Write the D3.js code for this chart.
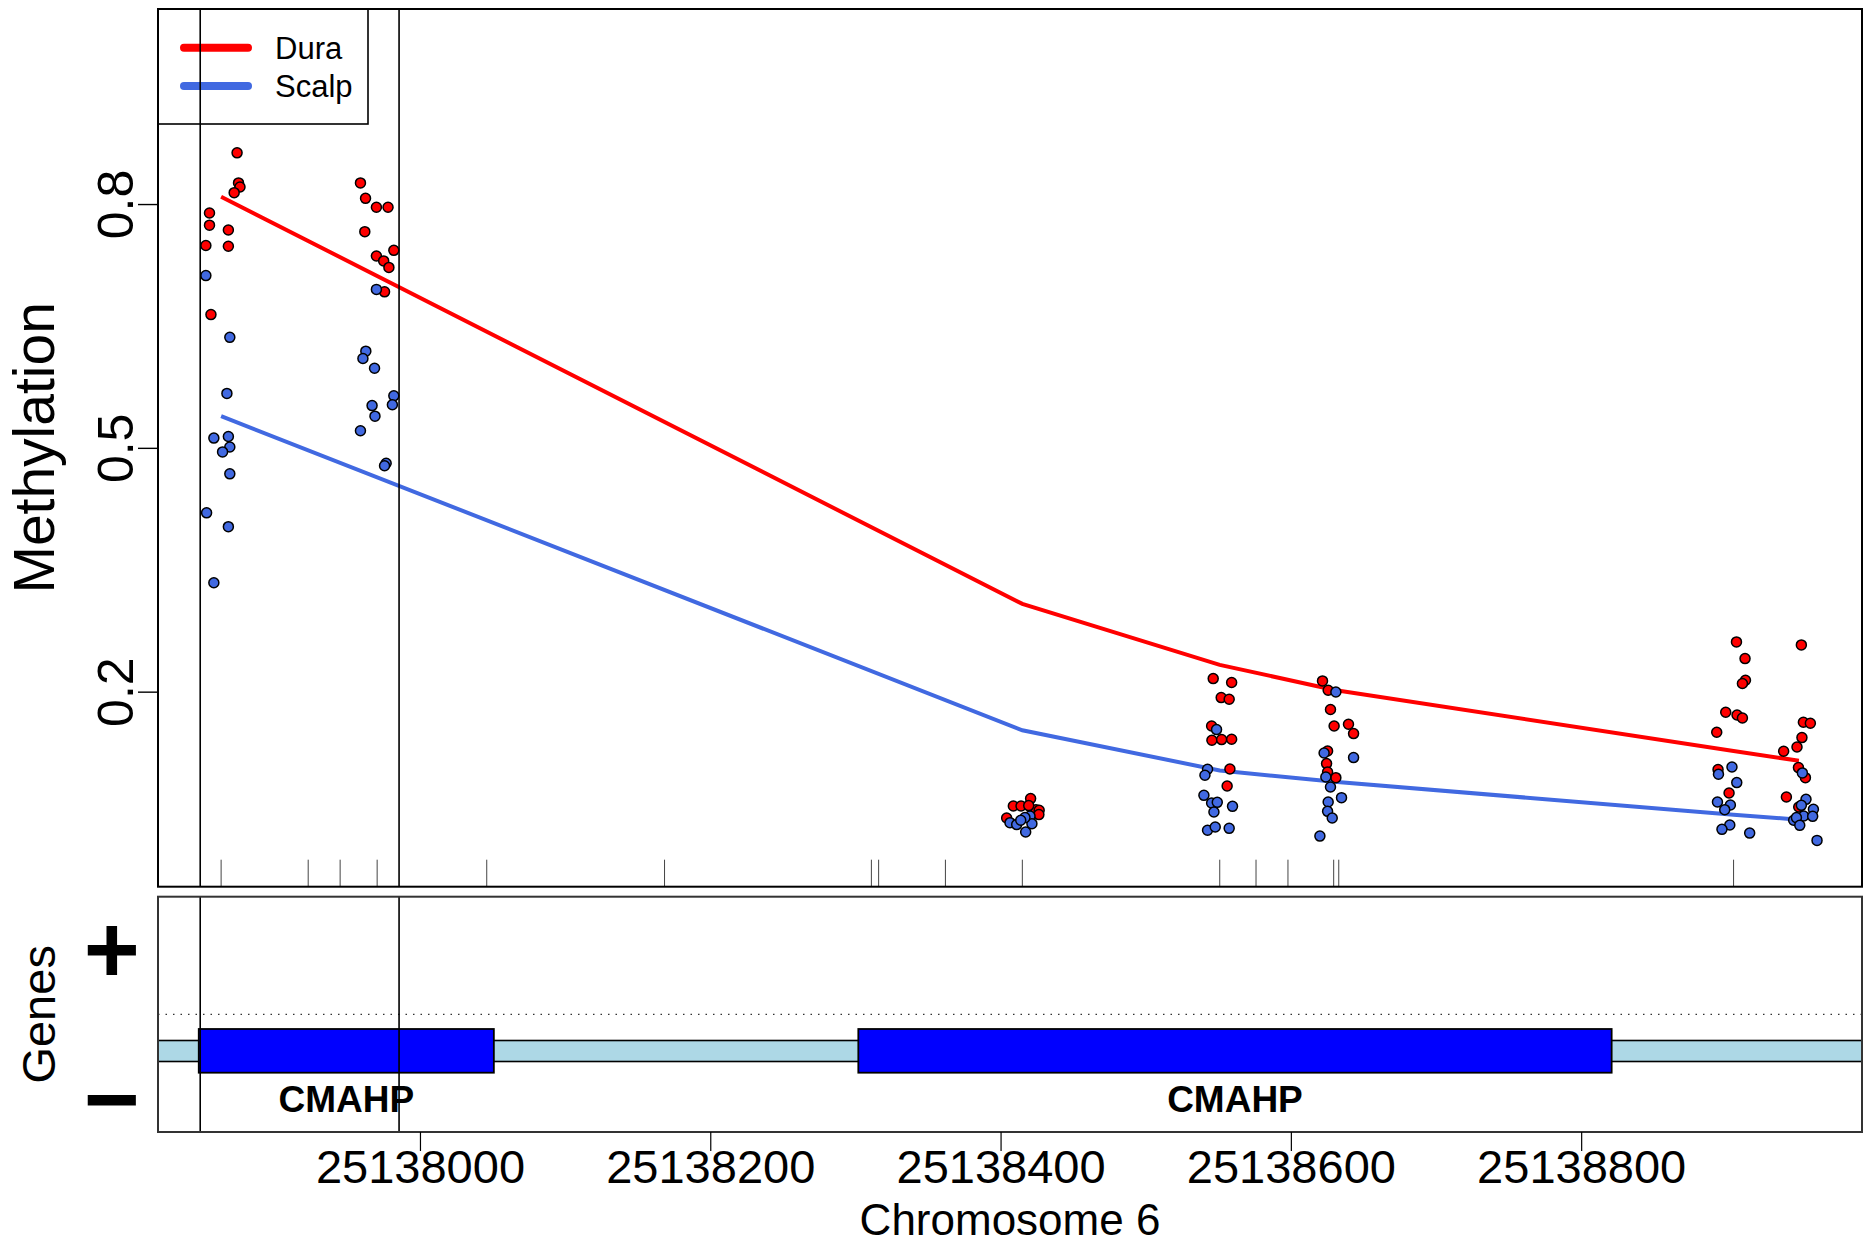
<!DOCTYPE html>
<html><head><meta charset="utf-8">
<script src="https://cdn.jsdelivr.net/npm/d3@7"></script>
<style>
body{margin:0;background:#fff}
svg{display:block}
text{font-family:"Liberation Sans",Arial,Helvetica,sans-serif;fill:#000}
</style>
</head><body>
<svg id="c" width="1864" height="1245"></svg>
<script>
// ---------------- data ----------------
const cpgPositions = [25137863, 25137923, 25137945, 25137970.5, 25138046, 25138168.5, 25138311, 25138316,
  25138362, 25138415, 25138551, 25138576, 25138598, 25138629.5, 25138633, 25138905];
const sitePositions = [25137863, 25138415, 25138551, 25138630, 25138905, 25138950];
const duraSmooth  = [0.809, 0.308, 0.233, 0.202, 0.127, 0.115];
const scalpSmooth = [0.539, 0.1525, 0.103, 0.089, 0.0486, 0.0425];

const duraPos = [
  25137874, 25137875, 25137876, 25137872, 25137855, 25137855, 25137868, 25137852.5, 25137868, 25137856,
  25137959, 25137962.5, 25137970, 25137978, 25137962, 25137982, 25137970, 25137975, 25137978.6, 25137975.6,
  25138420.7, 25138408.8, 25138414.1, 25138424.4, 25138426.6, 25138404.2, 25138426.4, 25138419.4,
  25138546.5, 25138559.2, 25138552, 25138557.5, 25138545.4, 25138545.6, 25138552.3, 25138559.2, 25138558, 25138556.1,
  25138621.8, 25138625.7, 25138627.3, 25138629.8, 25138639.7, 25138643.2, 25138625.3, 25138624.6, 25138625.3, 25138631,
  25138907, 25138912.9, 25138913.2, 25138911.1, 25138899.6, 25138907.4, 25138911.1, 25138893.4, 25138894.3, 25138901.9,
  25138951.7, 25138953.1, 25138957.9, 25138952.1, 25138948.7, 25138939.5, 25138949.7, 25138954.5, 25138941.4, 25138949.9];
const duraVal = [
  0.863, 0.826, 0.821, 0.814, 0.789, 0.774, 0.768, 0.749, 0.748, 0.664,
  0.826, 0.807, 0.796, 0.796, 0.766, 0.743, 0.736, 0.730, 0.722, 0.692,
  0.0684, 0.0593, 0.0593, 0.0548, 0.054, 0.0445, 0.0487, 0.0598,
  0.2161, 0.2112, 0.1927, 0.1906, 0.1578, 0.1402, 0.141, 0.1414, 0.1048, 0.0839,
  0.2132, 0.2017, 0.178, 0.1578, 0.1599, 0.1484, 0.127, 0.1115, 0.1011, 0.0942,
  0.2612, 0.2407, 0.214, 0.21, 0.1746, 0.1713, 0.1676, 0.15, 0.1041, 0.0753,
  0.2575, 0.1623, 0.1611, 0.1435, 0.1319, 0.1266, 0.1066, 0.0942, 0.0704, 0.058];

const scalpPos = [
  25137852.5, 25137869, 25137867, 25137858, 25137868, 25137869, 25137864, 25137869, 25137853, 25137868, 25137858,
  25137970, 25137962.7, 25137960.7, 25137968.7, 25137982, 25137981, 25137967, 25137969, 25137959, 25137976.7, 25137975.6,
  25138406.5, 25138411.1, 25138417.3, 25138420.3, 25138421.6, 25138416.8, 25138413.9,
  25138548.8, 25138542.6, 25138540.8, 25138540.1, 25138545.4, 25138549.3, 25138547, 25138559.8, 25138542.6, 25138547.9, 25138557.5,
  25138631, 25138622.9, 25138643.2, 25138624.1, 25138627.3, 25138634.9, 25138625.7, 25138625.3, 25138628.5, 25138620,
  25138903.9, 25138894.6, 25138907.2, 25138893.9, 25138902.8, 25138898.9, 25138902.4, 25138897, 25138916.1,
  25138952.4, 25138954.9, 25138951.7, 25138960, 25138953.3, 25138959.5, 25138946.4, 25138948.3, 25138950.6, 25138962.5];
const scalpVal = [
  0.712, 0.636, 0.567, 0.512, 0.514, 0.501, 0.495, 0.468, 0.420, 0.403, 0.334,
  0.695, 0.619, 0.610, 0.598, 0.564, 0.553, 0.552, 0.539, 0.521, 0.481, 0.478,
  0.0388, 0.0364, 0.0273, 0.047, 0.0376, 0.045, 0.0417,
  0.1533, 0.1045, 0.0971, 0.0724, 0.063, 0.0638, 0.0519, 0.0589, 0.0294, 0.0334, 0.0318,
  0.1996, 0.1245, 0.1189, 0.095, 0.0827, 0.0696, 0.0642, 0.0527, 0.0445, 0.0223,
  0.1073, 0.0983, 0.0881, 0.0642, 0.0605, 0.0548, 0.0359, 0.0306, 0.026,
  0.1, 0.0675, 0.0601, 0.0552, 0.047, 0.0466, 0.0417, 0.045, 0.0355, 0.017];

const groups = ["Dura", "Scalp"];
const yTicks = [0.2, 0.5, 0.8];
const xTicks = [25138000, 25138200, 25138400, 25138600, 25138800];
const regionBounds = [25137848.6, 25137985.6];
const exonStarts = [25137847.6, 25138302];
const exonEnds   = [25138050.9, 25138821];
const geneNames  = ["CMAHP", "CMAHP"];
const transcriptSpan = [25137700, 25139100];

// ---------------- layout ----------------
const colors = {Dura: "#FF0000", Scalp: "#4169E1"};
const P = {left: 158, right: 1862, top: 9, bottom: 886.7};
const G = {top: 896.7, bottom: 1132};

const svg = d3.select("#c");
const xmin = d3.min(sitePositions), xmax = d3.max(sitePositions);
const pad = 0.04 * (xmax - xmin);
const x = d3.scaleLinear().domain([xmin - pad, xmax + pad]).range([P.left, P.right]);
const y = d3.scaleLinear().domain([-0.04, 1.04]).range([P.bottom, P.top]);

const defs = svg.append("defs");
defs.append("clipPath").attr("id", "clipTop").append("rect")
  .attr("x", P.left).attr("y", P.top).attr("width", P.right - P.left).attr("height", P.bottom - P.top);
defs.append("clipPath").attr("id", "clipGene").append("rect")
  .attr("x", P.left).attr("y", G.top).attr("width", P.right - P.left).attr("height", G.bottom - G.top);

// ---- top panel ----
const topG = svg.append("g").attr("clip-path", "url(#clipTop)");

topG.selectAll("line.rug").data(cpgPositions).join("line").attr("class", "rug")
  .attr("x1", d => x(d)).attr("x2", d => x(d))
  .attr("y1", P.bottom - 27).attr("y2", P.bottom)
  .attr("stroke", "#444").attr("stroke-width", 1);

const leg = svg.append("g");
leg.append("rect").attr("x", P.left).attr("y", P.top).attr("width", 210).attr("height", 115)
  .attr("fill", "none").attr("stroke", "#000").attr("stroke-width", 1.6);
groups.forEach((g, i) => {
  const ly = 47.7 + i * 38.3;
  leg.append("line").attr("x1", 184).attr("x2", 248).attr("y1", ly).attr("y2", ly)
    .attr("stroke", colors[g]).attr("stroke-width", 8).attr("stroke-linecap", "round");
  leg.append("text").attr("x", 275).attr("y", ly + 11.3).attr("font-size", 31).text(g);
});

regionBounds.forEach(b => {
  svg.append("line").attr("x1", x(b)).attr("x2", x(b)).attr("y1", P.top).attr("y2", P.bottom)
    .attr("stroke", "#000").attr("stroke-width", 1.6);
});

const lineGen = d3.line().x(d => x(d[0])).y(d => y(d[1]));
topG.append("path").datum(d3.zip(sitePositions, duraSmooth)).attr("d", lineGen)
  .attr("fill", "none").attr("stroke", colors.Dura).attr("stroke-width", 4);
topG.append("path").datum(d3.zip(sitePositions, scalpSmooth)).attr("d", lineGen)
  .attr("fill", "none").attr("stroke", colors.Scalp).attr("stroke-width", 4);

topG.selectAll("circle.dura").data(d3.zip(duraPos, duraVal)).join("circle").attr("class", "dura")
  .attr("cx", d => x(d[0])).attr("cy", d => y(d[1])).attr("r", 5)
  .attr("fill", colors.Dura).attr("stroke", "#000").attr("stroke-width", 1.5);
topG.selectAll("circle.scalp").data(d3.zip(scalpPos, scalpVal)).join("circle").attr("class", "scalp")
  .attr("cx", d => x(d[0])).attr("cy", d => y(d[1])).attr("r", 5)
  .attr("fill", colors.Scalp).attr("stroke", "#000").attr("stroke-width", 1.5);

svg.append("rect").attr("x", P.left).attr("y", P.top).attr("width", P.right - P.left).attr("height", P.bottom - P.top)
  .attr("fill", "none").attr("stroke", "#000").attr("stroke-width", 2);

const yAxis = svg.append("g").attr("transform", `translate(${P.left},0)`)
  .call(d3.axisLeft(y).tickValues(yTicks).tickSize(20).tickFormat(d3.format(".1f")));
yAxis.select(".domain").remove();
yAxis.selectAll(".tick line").attr("stroke", "#000").attr("stroke-width", 1.4);
yAxis.selectAll(".tick text").attr("x", null).attr("dy", null).attr("text-anchor", "middle")
  .attr("transform", "translate(-25,0) rotate(-90)").attr("font-size", 50)
  .style("font-family", '"Liberation Sans",Arial,sans-serif').attr("fill", "#000");

svg.append("text").attr("transform", `translate(54,${(P.top + P.bottom) / 2}) rotate(-90)`)
  .attr("text-anchor", "middle").attr("font-size", 57).text("Methylation");

// ---- gene panel ----
const gp = svg.append("g").attr("clip-path", "url(#clipGene)");
const gMid = (G.top + G.bottom) / 2;
gp.append("line").attr("x1", P.left).attr("x2", P.right).attr("y1", gMid).attr("y2", gMid)
  .attr("stroke", "#333").attr("stroke-width", 1.4).attr("stroke-dasharray", "1.5,6");
gp.append("rect").attr("x", x(transcriptSpan[0])).attr("y", 1040.5)
  .attr("width", x(transcriptSpan[1]) - x(transcriptSpan[0])).attr("height", 21)
  .attr("fill", "#ADD8E6").attr("stroke", "#000").attr("stroke-width", 1.6);
gp.selectAll("rect.exon").data(d3.zip(exonStarts, exonEnds)).join("rect").attr("class", "exon")
  .attr("x", d => x(d[0])).attr("y", 1029).attr("width", d => x(d[1]) - x(d[0])).attr("height", 43.7)
  .attr("fill", "#0000FF").attr("stroke", "#000").attr("stroke-width", 1.8);
gp.selectAll("text.gname").data(d3.zip(exonStarts, exonEnds, geneNames)).join("text").attr("class", "gname")
  .attr("x", d => (x(d[0]) + x(d[1])) / 2).attr("y", 1111.5).attr("text-anchor", "middle")
  .attr("font-size", 37).attr("font-weight", "bold").text(d => d[2]);

regionBounds.forEach(b => {
  svg.append("line").attr("x1", x(b)).attr("x2", x(b)).attr("y1", G.top).attr("y2", G.bottom)
    .attr("stroke", "#000").attr("stroke-width", 1.6);
});
svg.append("rect").attr("x", P.left).attr("y", G.top).attr("width", P.right - P.left).attr("height", G.bottom - G.top)
  .attr("fill", "none").attr("stroke", "#333").attr("stroke-width", 2);

svg.append("text").attr("x", 111.7).attr("y", 983).attr("text-anchor", "middle")
  .attr("font-size", 96).attr("font-weight", "bold").text("+");
svg.append("text").attr("x", 111.7).attr("y", 1132).attr("text-anchor", "middle")
  .attr("font-size", 96).attr("font-weight", "bold").text("\u2212");
svg.append("text").attr("transform", `translate(55,${gMid}) rotate(-90)`)
  .attr("text-anchor", "middle").attr("font-size", 47).text("Genes");

const xAxis = svg.append("g").attr("transform", `translate(0,${G.bottom})`)
  .call(d3.axisBottom(x).tickValues(xTicks).tickSize(19).tickFormat(d3.format("d")));
xAxis.select(".domain").remove();
xAxis.selectAll(".tick line").attr("stroke", "#000").attr("stroke-width", 1.2);
xAxis.selectAll(".tick text").attr("y", 51).attr("dy", null).attr("font-size", 47)
  .style("font-family", '"Liberation Sans",Arial,sans-serif').attr("fill", "#000");

svg.append("text").attr("x", (P.left + P.right) / 2).attr("y", 1235).attr("text-anchor", "middle")
  .attr("font-size", 44).text("Chromosome 6");
</script>
</body></html>
